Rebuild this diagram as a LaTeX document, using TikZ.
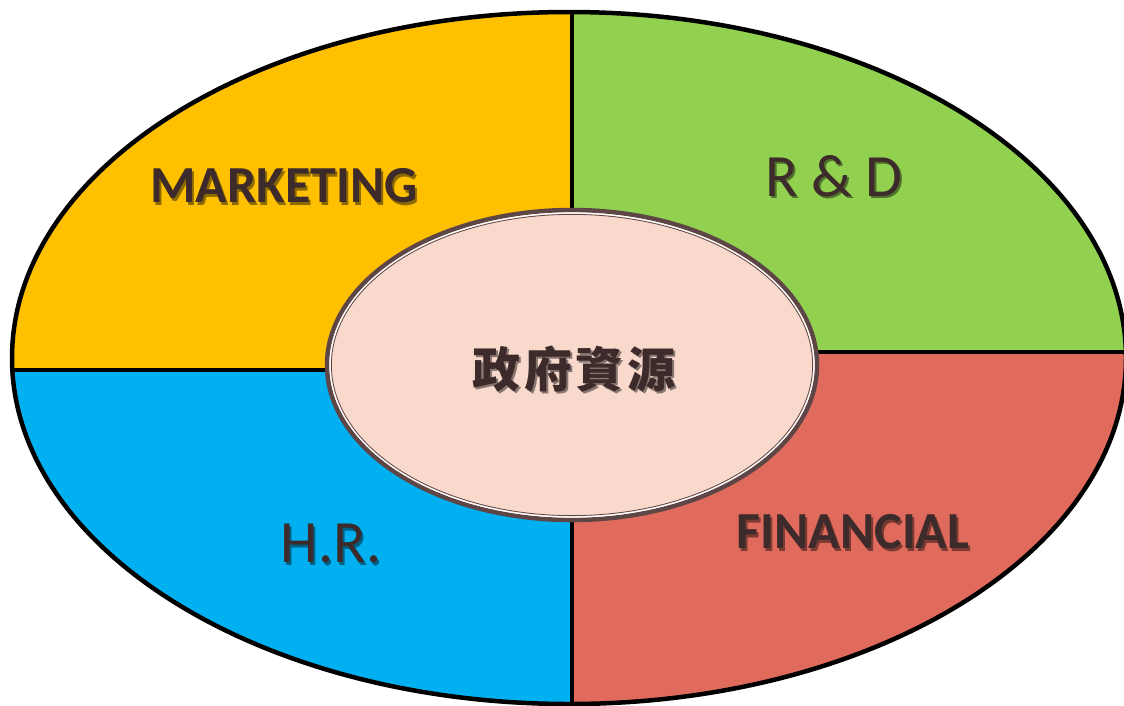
\documentclass[tikz,border=0pt]{standalone}
\usepackage{fontspec}
\setmainfont{Carlito}
\newfontfamily\cjk[LetterSpace=8]{Noto Sans CJK TC}
\definecolor{cyellow}{HTML}{FFC000}
\definecolor{cgreen}{HTML}{92D050}
\definecolor{cblue}{HTML}{00B0F0}
\definecolor{cred}{HTML}{E06B5D}
\definecolor{ctext}{HTML}{3D2A2A}
\definecolor{cbrown}{HTML}{5E4646}
\definecolor{cpink}{HTML}{F8D9CC}
\tikzset{
  lbl/.style={text=ctext, inner sep=0pt},
  divider/.style={line width=4pt, black},
}
% text with a soft drop shadow inside one node
\newcommand{\shadowed}[2]{%
  \makebox[0pt][l]{\hspace{2pt}\raisebox{-2.5pt}{\color{#1}#2}}#2}
\begin{document}
\begin{tikzpicture}[x=1pt,y=-1pt]
\useasboundingbox (0,0) rectangle (1124,705);
\fill[white] (0,0) rectangle (1124,705);
\begin{scope}
  \clip (569,358) ellipse [x radius=557, y radius=346];
  \fill[cyellow] (0,0) rectangle (572,370);
  \fill[cblue] (0,370) rectangle (572,720);
  \fill[cgreen] (572,0) rectangle (1130,352);
  \fill[cred] (572,352) rectangle (1130,720);
  \draw[divider] (572,0) -- (572,720);
  \draw[divider] (0,370) -- (572,370);
  \draw[divider] (572,352) -- (1130,352);
\end{scope}
\draw[line width=4.5pt] (569,358) ellipse [x radius=557, y radius=346];
% inner ellipse
\fill[cpink] (572,365) ellipse [x radius=245, y radius=155];
\draw[cbrown, line width=4.5pt] (572,365) ellipse [x radius=245, y radius=155];
\draw[white, line width=1.2pt] (572,365) ellipse [x radius=242, y radius=152];
\draw[cbrown, line width=0.8pt] (572,365) ellipse [x radius=240.6, y radius=150.6];
% labels
\node[lbl, font=\bfseries\fontsize{52}{60}\selectfont] (mk) at (284,187)
  {\shadowed{cyellow!55!black}{MARKETING}};
\node[lbl, font=\fontsize{60}{70}\selectfont] (rd) at (834,177)
  {\shadowed{cgreen!55!black}{R \& D}};
\node[lbl, font=\fontsize{60}{70}\selectfont] (hr) at (331,545)
  {\shadowed{cblue!55!black}{H.R.}};
\node[lbl, font=\bfseries\fontsize{52}{60}\selectfont] (fin) at (853,533)
  {\shadowed{cred!55!black}{FINANCIAL}};
\node[lbl, font=\cjk\bfseries\fontsize{48}{54}\selectfont] (gov) at (574,370)
  {\shadowed{cpink!55!black}{政府資源}};
\end{tikzpicture}
\end{document}
